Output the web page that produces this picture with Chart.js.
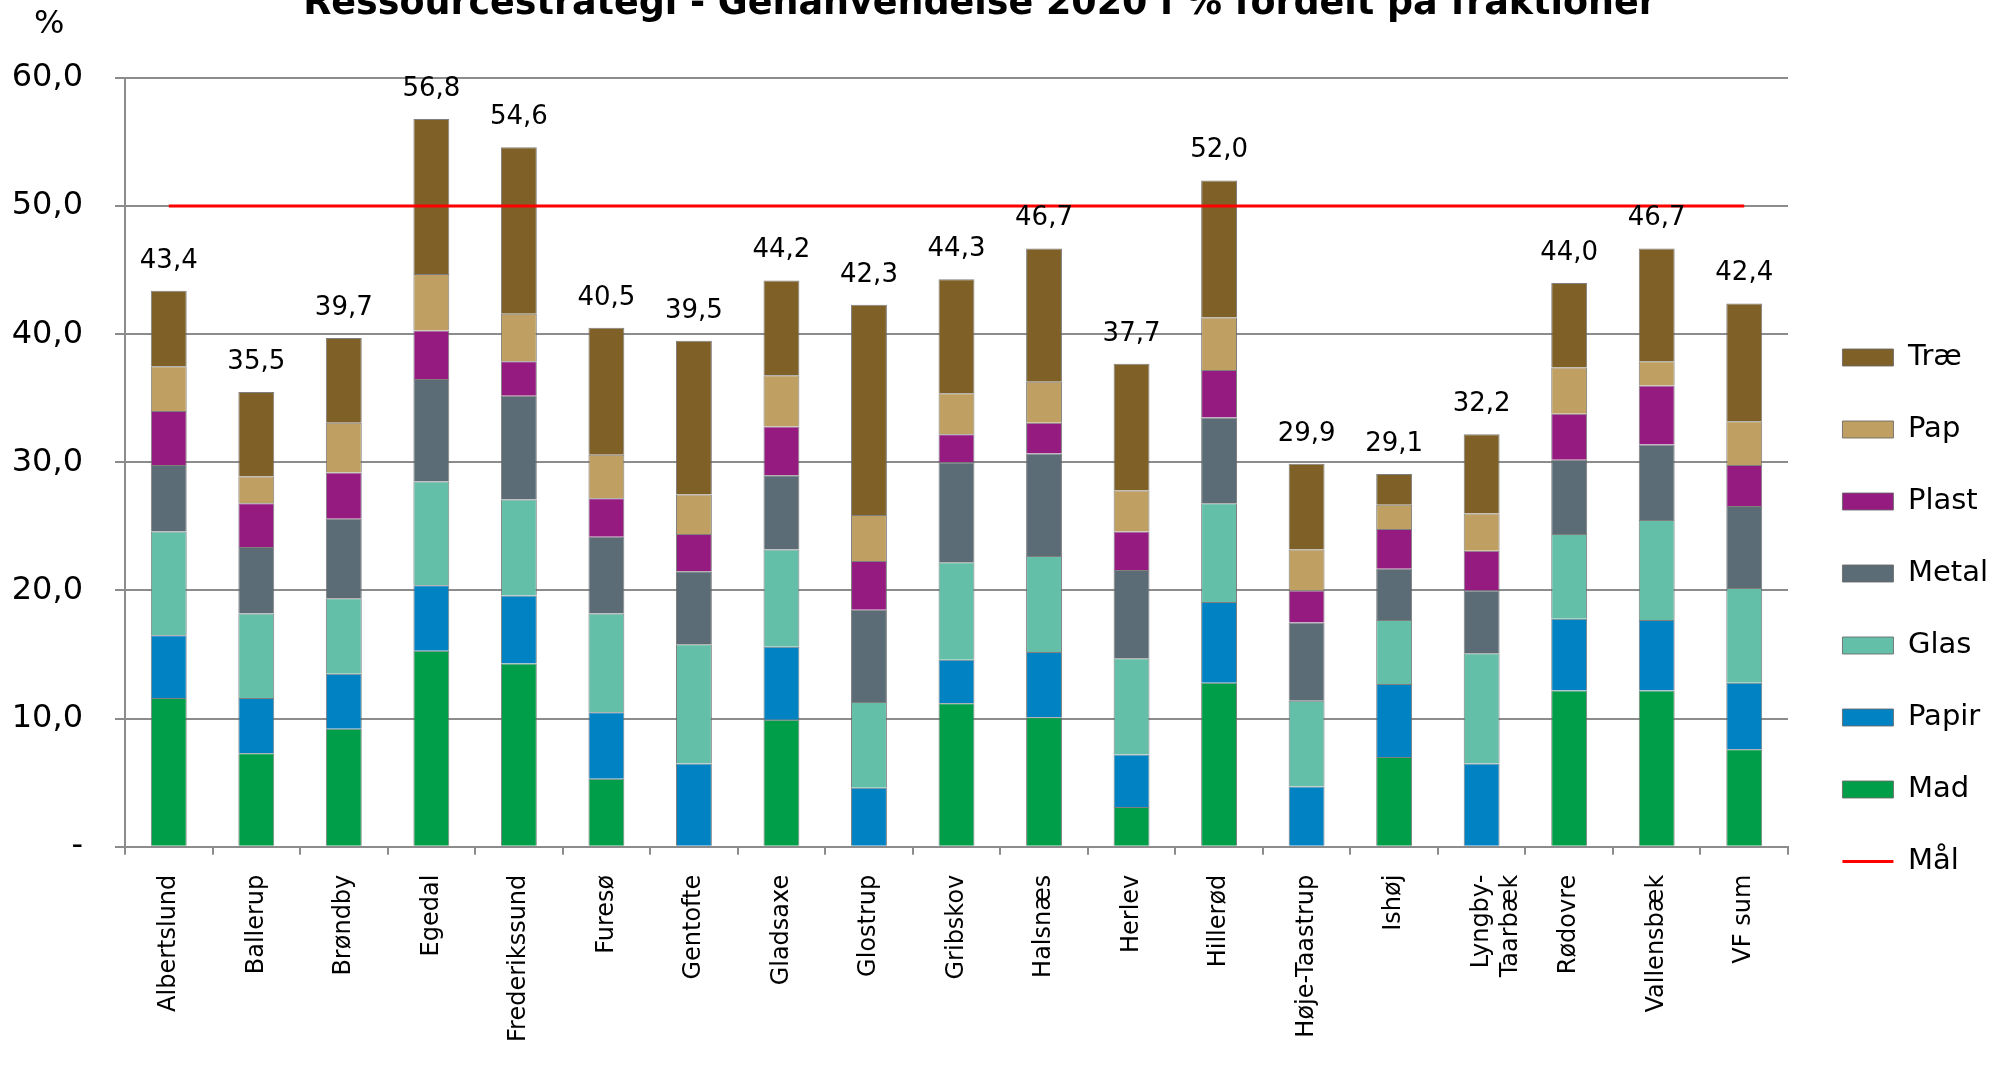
<!DOCTYPE html>
<html>
<head>
<meta charset="utf-8">
<script src="https://cdn.jsdelivr.net/npm/chart.js@4/dist/chart.umd.min.js"></script>
<style>
html,body{margin:0;padding:0;background:#fff;}
#wrap{width:2006px;height:1066px;position:relative;}
</style>
</head>
<body>
<div id="wrap"><canvas id="c"></canvas></div>
<script>
// ---- Data ----
const TITLE = 'Ressourcestrategi - Genanvendelse 2020 i % fordelt på fraktioner';
const Y_UNIT = '%';
const categories = ['Albertslund','Ballerup','Brøndby','Egedal','Frederikssund','Furesø','Gentofte','Gladsaxe','Glostrup','Gribskov','Halsnæs','Herlev','Hillerød','Høje-Taastrup','Ishøj',['Lyngby-','Taarbæk'],'Rødovre','Vallensbæk','VF sum'];
const mad   = [11.6, 7.3, 9.2, 15.3, 14.3, 5.3, 0.0, 9.9, 0.0, 11.2, 10.1, 3.1, 12.8, 0.0, 7.0, 0.0, 12.2, 12.2, 7.6];
const papir = [4.9, 4.3, 4.3, 5.1, 5.3, 5.2, 6.5, 5.7, 4.6, 3.4, 5.1, 4.1, 6.3, 4.7, 5.7, 6.5, 5.6, 5.5, 5.2];
const glas  = [8.1, 6.6, 5.9, 8.1, 7.5, 7.7, 9.3, 7.6, 6.7, 7.6, 7.5, 7.5, 7.7, 6.7, 5.0, 8.6, 6.6, 7.8, 7.4];
const metal = [5.2, 5.2, 6.2, 8.0, 8.1, 6.0, 5.7, 5.8, 7.2, 7.8, 8.0, 6.9, 6.7, 6.1, 4.0, 4.9, 5.8, 5.9, 6.4];
const plast = [4.2, 3.4, 3.6, 3.8, 2.7, 3.0, 2.9, 3.8, 3.8, 2.2, 2.4, 3.0, 3.7, 2.5, 3.1, 3.1, 3.6, 4.6, 3.2];
const pap   = [3.5, 2.1, 3.9, 4.4, 3.7, 3.4, 3.1, 4.0, 3.6, 3.2, 3.2, 3.2, 4.1, 3.2, 1.9, 2.9, 3.6, 1.9, 3.4];
const trae  = [5.9, 6.6, 6.6, 12.1, 13.0, 9.9, 12.0, 7.4, 16.4, 8.9, 10.4, 9.9, 10.7, 6.7, 2.4, 6.2, 6.6, 8.8, 9.2];
const totals = [43.4, 35.5, 39.7, 56.8, 54.6, 40.5, 39.5, 44.2, 42.3, 44.3, 46.7, 37.7, 52.0, 29.9, 29.1, 32.2, 44.0, 46.7, 42.4];
const maal  = [50, 50, 50, 50, 50, 50, 50, 50, 50, 50, 50, 50, 50, 50, 50, 50, 50, 50, 50];
const yTickLabels = ['-', '10,0', '20,0', '30,0', '40,0', '50,0', '60,0'];

// ---- Styles ----
const FONT = 'DejaVu Sans';
const GRID = '#8c8c8c';
const BAR_BORDER = 'rgba(105,105,105,0.85)';
Chart.defaults.font.family = FONT;
Chart.defaults.color = '#000';

const barSeries = [
  ['Mad', mad, '#009E48'],
  ['Papir', papir, '#0082C3'],
  ['Glas', glas, '#64BFA9'],
  ['Metal', metal, '#5B6C77'],
  ['Plast', plast, '#951B81'],
  ['Pap', pap, '#BFA062'],
  ['Træ', trae, '#7F6128']
];

const datasets = barSeries.map(([label, data, color]) => ({
  type: 'bar', label, data,
  backgroundColor: color, borderColor: BAR_BORDER, borderWidth: 1,
  barPercentage: 0.41, categoryPercentage: 1.0
}));
datasets.push({
  type: 'line', label: 'Mål', data: maal, stack: 'goal',
  borderColor: '#ff0000', backgroundColor: '#ff0000', borderWidth: 3,
  pointRadius: 0, pointHoverRadius: 0, fill: false, order: -1
});

const decorations = {
  id: 'decorations',
  afterDatasetsDraw(chart) {
    const ctx = chart.ctx;
    ctx.save();
    ctx.fillStyle = '#000';
    ctx.font = '26px "' + FONT + '"';
    ctx.textAlign = 'center';
    ctx.textBaseline = 'alphabetic';
    totals.forEach((t, i) => {
      let top = Infinity, x = 0;
      for (let d = 0; d < barSeries.length; d++) {
        const el = chart.getDatasetMeta(d).data[i];
        if (el && el.y < top) { top = el.y; x = el.x; }
      }
      ctx.fillText(t.toFixed(1).replace('.', ','), x, top - 23);
    });
    ctx.restore();
  },
  afterDraw(chart) {
    const ctx = chart.ctx;
    ctx.save();
    ctx.fillStyle = '#000';
    ctx.textBaseline = 'alphabetic';
    ctx.font = 'bold 30px "' + FONT + '"';
    const w = ctx.measureText(TITLE).width;
    const size = 30 * 1354 / w;
    ctx.font = 'bold ' + size.toFixed(2) + 'px "' + FONT + '"';
    ctx.textAlign = 'center';
    ctx.fillText(TITLE, 980, 14);
    ctx.font = '32px "' + FONT + '"';
    ctx.textAlign = 'left';
    ctx.fillText(Y_UNIT, 34, 33);
    ctx.restore();
  }
};

new Chart(document.getElementById('c'), {
  data: { labels: categories, datasets },
  plugins: [decorations],
  options: {
    responsive: true,
    maintainAspectRatio: false,
    animation: false,
    devicePixelRatio: 1,
    layout: { padding: { top: 78, bottom: 0, left: 0, right: 8 } },
    plugins: {
      title: { display: false },
      tooltip: { enabled: false },
      legend: {
        position: 'right',
        align: 'start',
        title: { display: true, text: ' ', font: { size: 10 }, padding: { top: 0, bottom: 210 } },
        labels: {
          usePointStyle: true,
          pointStyleWidth: 51,
          boxWidth: 51,
          boxHeight: 17,
          padding: 43,
          color: '#000',
          font: { size: 29, family: FONT },
          generateLabels(chart) {
            const items = Chart.defaults.plugins.legend.labels.generateLabels(chart);
            const bars = items.filter(it => it.datasetIndex < barSeries.length)
              .sort((a, b) => b.datasetIndex - a.datasetIndex)
              .map(it => Object.assign({}, it, { pointStyle: 'rect', lineWidth: 1 }));
            const lines = items.filter(it => it.datasetIndex >= barSeries.length)
              .map(it => Object.assign({}, it, { pointStyle: 'line', lineWidth: 3, strokeStyle: '#ff0000' }));
            return bars.concat(lines);
          }
        }
      }
    },
    scales: {
      x: {
        stacked: true,
        offset: true,
        grid: { display: true, drawOnChartArea: false, drawTicks: true, tickLength: 8, color: GRID, lineWidth: 2, offset: true },
        border: { display: true, color: GRID, width: 2 },
        ticks: { autoSkip: false, minRotation: 90, maxRotation: 90, padding: 20, color: '#000', font: { size: 24, family: FONT } },
        afterFit(s) { s.height = 219.3; }
      },
      y: {
        stacked: true,
        min: 0, max: 60,
        grid: { color: GRID, lineWidth: 2, drawTicks: true, tickLength: 10 },
        border: { display: true, color: GRID, width: 2 },
        ticks: {
          stepSize: 10, padding: 32, color: '#000', font: { size: 32, family: FONT },
          callback: (v, i) => yTickLabels[i]
        },
        afterFit(s) { s.width = 125; }
      },
      yR: {
        position: 'right',
        display: true,
        grid: { display: false, drawTicks: false },
        border: { display: false },
        ticks: { display: false },
        afterFit(s) {
          const lw = s.chart.legend ? s.chart.legend.width : 199;
          s.width = Math.max(0, s.chart.width - 8 - lw - 1788);
        }
      }
    }
  }
});
</script>
</body>
</html>
